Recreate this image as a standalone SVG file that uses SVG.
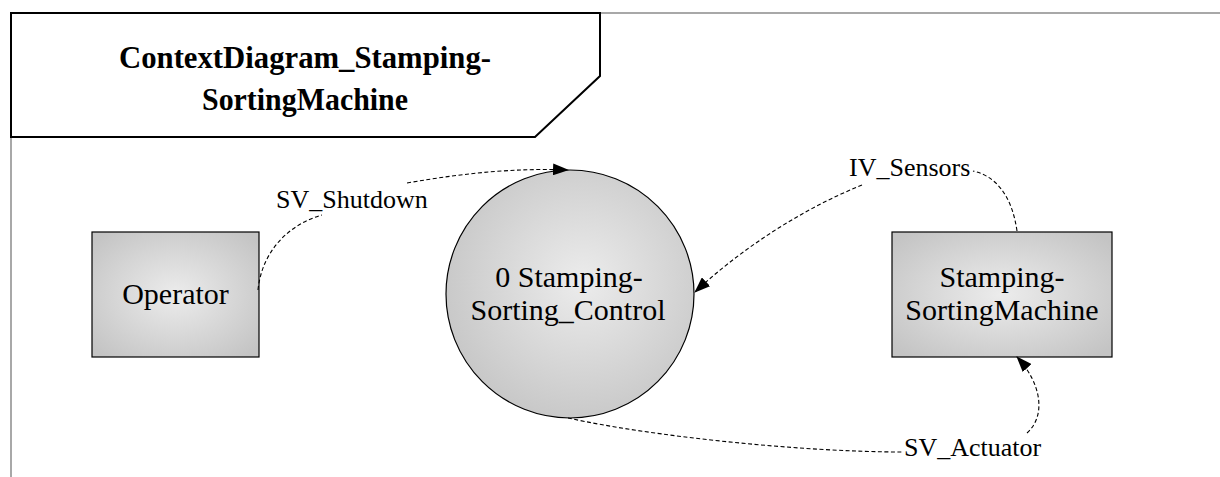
<svg xmlns="http://www.w3.org/2000/svg" width="1220" height="477" viewBox="0 0 1220 477">
  <style>
    .frame { fill: none; stroke: #8c8c8c; stroke-width: 1.5; }
    .title-box { fill: #ffffff; stroke: #000000; stroke-width: 2; }
    .title { font-family: "Liberation Serif", serif; font-weight: bold; font-size: 32px; fill: #000000; text-anchor: middle; }
    .node-shape { stroke: #000000; stroke-width: 1.2; }
    .node-text { font-family: "Liberation Serif", serif; font-size: 30px; fill: #000000; text-anchor: middle; }
    .flow { fill: none; stroke: #000000; stroke-width: 1.1; stroke-dasharray: 4 2.5; }
    .flow-label { font-family: "Liberation Serif", serif; font-size: 26px; fill: #000000; }
  </style>
  <defs>
    <radialGradient id="boxFill" cx="50%" cy="50%" r="65%">
      <stop offset="0" stop-color="#ececec"/>
      <stop offset="1" stop-color="#c4c4c4"/>
    </radialGradient>
    <radialGradient id="procFill" cx="55%" cy="45%" r="60%">
      <stop offset="0" stop-color="#ececec"/>
      <stop offset="1" stop-color="#c6c6c6"/>
    </radialGradient>
    <marker id="arrow" viewBox="0 0 16 12" refX="15" refY="6" markerWidth="16" markerHeight="12" markerUnits="userSpaceOnUse" orient="auto">
      <path d="M0,0 L16,6 L0,12 Z" fill="#000000"/>
    </marker>
  </defs>

  <!-- diagram frame with its name tag -->
  <g id="frame">
    <path class="frame" d="M11,477 L11,13 L1220,13"/>
    <path class="title-box" d="M11,13 L600,13 L600,76 L535,137 L11,137 Z"/>
    <text class="title" x="305" y="68" textLength="372" lengthAdjust="spacingAndGlyphs">ContextDiagram_Stamping-</text>
    <text class="title" x="305" y="110" textLength="206" lengthAdjust="spacingAndGlyphs">SortingMachine</text>
  </g>

  <!-- external entity: Operator -->
  <g id="operator">
    <rect class="node-shape" x="92" y="232" width="167" height="125" fill="url(#boxFill)"/>
    <text class="node-text" x="175.5" y="304">Operator</text>
  </g>

  <!-- process 0 -->
  <g id="process-0">
    <circle class="node-shape" cx="570" cy="294" r="124" fill="url(#procFill)"/>
    <text class="node-text" x="569" y="287">0 Stamping-</text>
    <text class="node-text" x="568" y="320">Sorting_Control</text>
  </g>

  <!-- external entity: Stamping-SortingMachine -->
  <g id="machine">
    <rect class="node-shape" x="892" y="232" width="220" height="125" fill="url(#boxFill)"/>
    <text class="node-text" x="1002" y="287">Stamping-</text>
    <text class="node-text" x="1002" y="320">SortingMachine</text>
  </g>

  <!-- data flows -->
  <g id="flows">
    <path class="flow" d="M258,290 C262,250 290,224 322,215"/>
    <path class="flow" d="M407,183 C470,172 520,168 568,170" marker-end="url(#arrow)"/>
    <text class="flow-label" x="276" y="208">SV_Shutdown</text>

    <path class="flow" d="M1017,231 C1012,196 996,176 973,171"/>
    <path class="flow" d="M862,185 C800,210 740,250 695,292" marker-end="url(#arrow)"/>
    <text class="flow-label" x="849" y="176">IV_Sensors</text>

    <path class="flow" d="M568,418 C650,436 800,452 903,452"/>
    <path class="flow" d="M1027,433 C1046,416 1042,384 1017,357" marker-end="url(#arrow)"/>
    <text class="flow-label" x="904" y="456">SV_Actuator</text>
  </g>
</svg>
